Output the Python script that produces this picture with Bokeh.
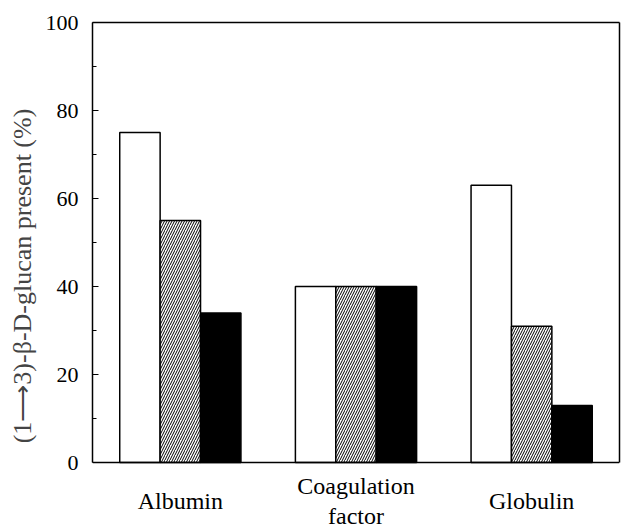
from bokeh.plotting import figure
from bokeh.models import (FactorRange, Range1d, FixedTicker, ColumnDataSource,
                          LinearAxis, Span)
from bokeh.core.properties import value
from bokeh.transform import dodge
from bokeh.embed import file_html
from bokeh.resources import INLINE

categories = ["Albumin", "Coagulation factor", "Globulin"]
category_labels = ["Albumin", "Coagulation\nfactor", "Globulin"]
open_bar = [75, 40, 63]
hatched_bar = [55, 40, 31]
filled_bar = [34, 40, 13]
y_ticks = [0, 20, 40, 60, 80, 100]
y_minor = [10, 30, 50, 70, 90]

FONT = "Liberation Serif"
LABEL_Y = -8.7  # data-space row under the baseline for the category names

src = ColumnDataSource(dict(cat=categories, a=open_bar, b=hatched_bar, c=filled_bar,
                            lab=category_labels, ly=[LABEL_Y] * len(categories)))

p = figure(x_range=FactorRange(*categories), y_range=Range1d(-15.2, 100),
           width=621, height=531, output_backend="svg", toolbar_location=None,
           min_border_left=92, min_border_right=2, min_border_top=22, min_border_bottom=2)

w = 0.23
p.vbar(x=dodge("cat", -w, range=p.x_range), top="a", width=w, source=src,
       fill_color="white", line_color="black", line_width=1.5)
p.vbar(x=dodge("cat", 0, range=p.x_range), top="b", width=w, source=src,
       fill_color="white", line_color="black", line_width=1.5,
       hatch_pattern="/", hatch_color="black", hatch_scale=5, hatch_weight=1)
p.vbar(x=dodge("cat", w, range=p.x_range), top="c", width=w, source=src,
       fill_color="black", line_color="black", line_width=1.5)

p.text(x="cat", y="ly", text="lab", source=src, text_align="center",
       text_baseline="middle", text_font=value(FONT), text_font_size="24px",
       text_color="black", text_line_height=1.15)

p.grid.visible = False
p.outline_line_color = None
p.xaxis.visible = False

# baseline at y = 0
p.add_layout(Span(location=0, dimension="width", line_color="black", line_width=1.5))

yax = p.yaxis[0]
yax.bounds = (0, 100)
yax.ticker = FixedTicker(ticks=y_ticks, minor_ticks=y_minor)
yax.major_tick_in = 6
yax.major_tick_out = 0
yax.minor_tick_in = 4
yax.minor_tick_out = 0
yax.axis_line_width = 1.5
yax.major_label_standoff = 14
yax.major_label_text_font = FONT
yax.major_label_text_font_size = "22px"
yax.major_label_text_color = "black"
yax.axis_label = "(1\u27f63)-\u03b2-D-glucan present (%)"
yax.axis_label_text_font = FONT
yax.axis_label_text_font_size = "26px"
yax.axis_label_text_font_style = "normal"
yax.axis_label_standoff = 6

# right border of the box (0..100 only)
rax = LinearAxis(bounds=(0, 100), ticker=FixedTicker(ticks=[]), axis_line_width=1.5,
                 major_tick_in=0, major_tick_out=0, minor_tick_in=0, minor_tick_out=0)
p.add_layout(rax, "right")

# top border of the box
tax = LinearAxis(ticker=FixedTicker(ticks=[]), axis_line_width=1.5,
                 major_tick_in=0, major_tick_out=0, minor_tick_in=0, minor_tick_out=0)
p.add_layout(tax, "above")

open("out.html", "w").write(file_html(p, INLINE))
